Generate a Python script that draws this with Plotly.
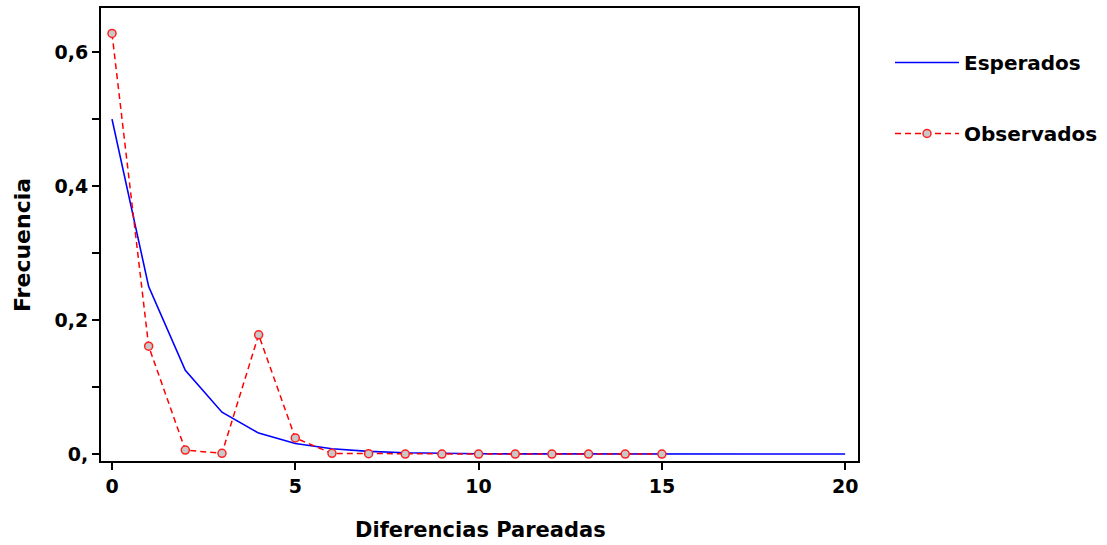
import plotly.graph_objects as go

x_esp = list(range(0, 21))
esperados = [0.5, 0.25, 0.125, 0.0625, 0.03125, 0.015625, 0.0078125, 0.00390625,
             0.001953, 0.000977, 0.000488, 0.000244, 0.000122, 0.000061, 0.000031,
             0.000015, 0.000008, 0.000004, 0.000002, 0.000001, 0.0000005]
x_obs = list(range(0, 16))
observados = [0.628, 0.161, 0.006, 0.001, 0.178, 0.024, 0.001, 0.0005,
              0.0, 0.0, 0.0, 0.0, 0.0, 0.0, 0.0, 0.0]

x_ticks = [0, 5, 10, 15, 20]
y_ticks = [0, 0.1, 0.2, 0.3, 0.4, 0.5, 0.6]
y_ticktext = ["0,", "", "0,2", "", "0,4", "", "0,6"]

FONT = "DejaVu Sans, sans-serif"
W, H = 1107, 545
ML, MR, MT, MB = 101, 0, 8, 84
PW = W - ML - MR
PH = H - MT - MB
X_END = 858

fig = go.Figure()
fig.add_trace(go.Scatter(
    x=x_esp, y=esperados, mode="lines", name="<b>Esperados</b>",
    line=dict(color="#0000ff", width=1.6), legendgroup="a"))
fig.add_trace(go.Scatter(
    x=x_obs, y=observados, mode="lines+markers", name="<b>Observados</b>",
    line=dict(color="#ff0000", width=1.5, dash="6px,4px"),
    marker=dict(symbol="circle", size=8, color="#c8c8c8",
                line=dict(color="#ff2020", width=1.5)), legendgroup="b"))

fig.update_layout(
    width=W, height=H,
    margin=dict(l=ML, r=MR, t=MT, b=MB, autoexpand=False),
    paper_bgcolor="white", plot_bgcolor="white",
    font=dict(family=FONT, size=19, color="black"),
    legend=dict(x=(890 - ML) / PW, y=(H - MB - 43) / PH, xanchor="left", yanchor="top",
                tracegroupgap=42, itemwidth=64, font=dict(size=20, color="black"),
                bgcolor="rgba(0,0,0,0)"),
    xaxis=dict(domain=[0, (X_END - ML) / PW], range=[-0.3, 20.35], tickvals=x_ticks,
               ticktext=["<b>%d</b>" % v for v in x_ticks],
               showgrid=False, zeroline=False, showline=True, mirror=True,
               linecolor="black", linewidth=2, ticks="outside", ticklen=7,
               tickwidth=1.5, tickcolor="black", automargin=False),
    yaxis=dict(range=[-0.0104, 0.666], tickvals=y_ticks,
               ticktext=["<b>%s</b>" % t for t in y_ticktext],
               showgrid=False, zeroline=False, showline=True, mirror=True,
               linecolor="black", linewidth=2, ticks="outside", ticklen=7,
               tickwidth=1.5, tickcolor="black", automargin=False),
    annotations=[
        dict(text="<b>Diferencias Pareadas</b>", xref="paper", yref="paper",
             x=(480 - ML) / PW, y=-(530 - (H - MB)) / PH,
             xanchor="center", yanchor="middle", showarrow=False,
             font=dict(size=21)),
        dict(text="<b>Frecuencia</b>", xref="paper", yref="paper",
             x=-(ML - 22) / PW, y=(H - MB - 245) / PH,
             xanchor="center", yanchor="middle", showarrow=False, textangle=-90,
             font=dict(size=22)),
    ],
)

fig.write_html("out.html", config={"displayModeBar": False},
               post_script="document.body.style.margin='0';")
